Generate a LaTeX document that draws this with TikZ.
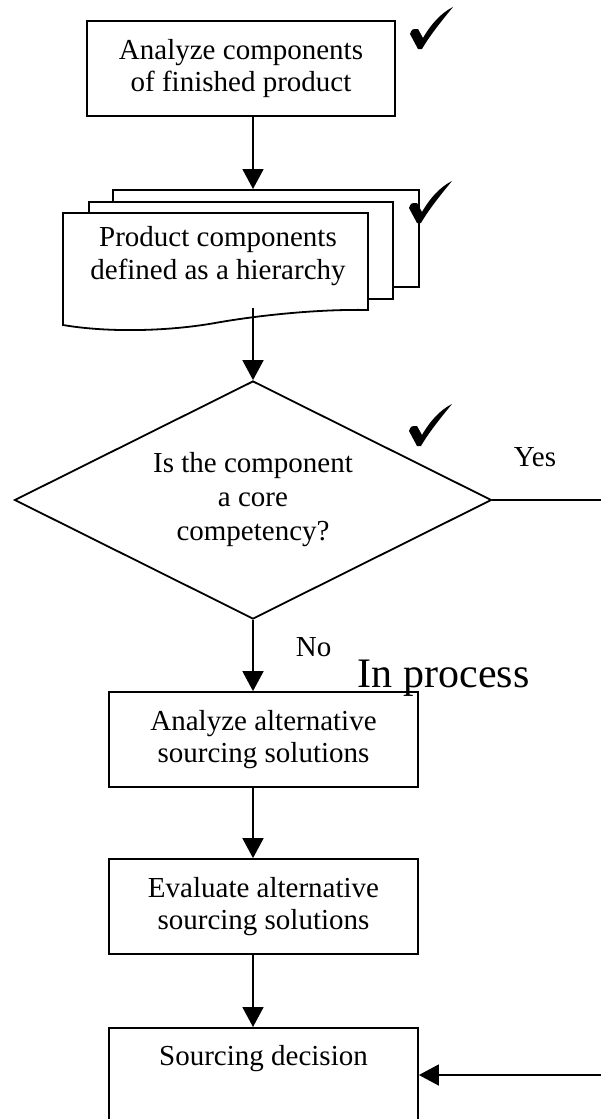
\documentclass[tikz,border=0pt]{standalone}
\usepackage{fontspec}
\setmainfont{Liberation Serif}
\usetikzlibrary{arrows.meta,shapes.geometric}
\begin{document}
\begin{tikzpicture}[x=1pt,y=-1pt,
  line width=1.8pt,
  txt/.style={font=\fontsize{29}{32}\selectfont, align=center},
  procbox/.style={draw, txt, minimum width=309pt, minimum height=95pt, inner sep=0pt},
  sheet/.style={draw, fill=white},
  arr/.style={-{Triangle[length=20pt,width=21pt]}},
  tick/.pic={\fill (-9,-15) .. controls (-7,-20) .. (-1,-20) -- (4,-11)
      .. controls (12,-25) and (22,-36) .. (34,-42)
      .. controls (25,-31) and (11,-14) .. (3,0) -- (-1,0) -- cycle;}]
\useasboundingbox (0,0) rectangle (601,1119);
\clip (0,0) rectangle (601,1119);

% first step
\node[procbox, minimum width=308pt] (analyze) at (241,68.5)
  {Analyze components\\of finished product};

% stacked document: two sheets behind, wavy front sheet
\node[sheet, minimum width=306pt, minimum height=97pt, inner sep=0pt, anchor=north west] (back) at (112,189) {};
\node[sheet, minimum width=304pt, minimum height=97pt, inner sep=0pt, anchor=north west] (mid) at (88,201) {};
\filldraw[fill=white] (63,213) -- (368,213) -- (368,310)
  .. controls (320,309) and (260,315) .. (215,323)
  .. controls (170,331) and (110,333) .. (63,325) -- cycle;
\node[txt, font=\fontsize{29}{33}\selectfont] (doc) at (218,256)
  {Product components\\defined as a hierarchy};
\coordinate (docout) at (253,308);

% decision
\node[draw, diamond, aspect=2, minimum width=477pt, minimum height=238pt, inner sep=0pt,
      txt, font=\fontsize{29}{34}\selectfont] (core) at (253,500)
  {Is the component\\a core\\competency?};

% remaining steps
\node[procbox] (alt) at (263.5,739.5) {Analyze alternative\\sourcing solutions};
\node[procbox] (eval) at (263.5,906.5) {Evaluate alternative\\sourcing solutions};
\node[draw, minimum width=309pt, minimum height=190pt, inner sep=0pt, anchor=north] (dec) at (263.5,1027) {};
\node[txt, anchor=base] (dectext) at (263.5,1065) {Sourcing decision};

% connectors
\draw[arr] (analyze.south -| core.north) -- (back.north -| core.north);
\draw[arr] (docout) -- (core.north);
\draw[arr] (core.south) -- (alt.north -| core.south);
\draw[arr] (alt.south -| core.south) -- (eval.north -| core.south);
\draw[arr] (eval.south -| core.south) -- (dec.north -| core.south);

\coordinate (yesend) at (601,500);
\draw (core.east) -- (yesend);
\coordinate (retin) at (601,1075);
\draw[arr] (retin) -- (retin -| dec.east);

% labels
\node[txt, anchor=base west, inner sep=0pt] (yes) at (513,466) {Yes};
\node[txt, anchor=base west, inner sep=0pt] (no) at (295,656) {No};
\node[anchor=base west, inner sep=0pt, font=\fontsize{42}{48}\selectfont] (inproc) at (357,687) {In process};

% completion ticks
\pic at (419,49) {tick};
\pic at (418,223) {tick};
\pic at (418,446) {tick};
\end{tikzpicture}
\end{document}
